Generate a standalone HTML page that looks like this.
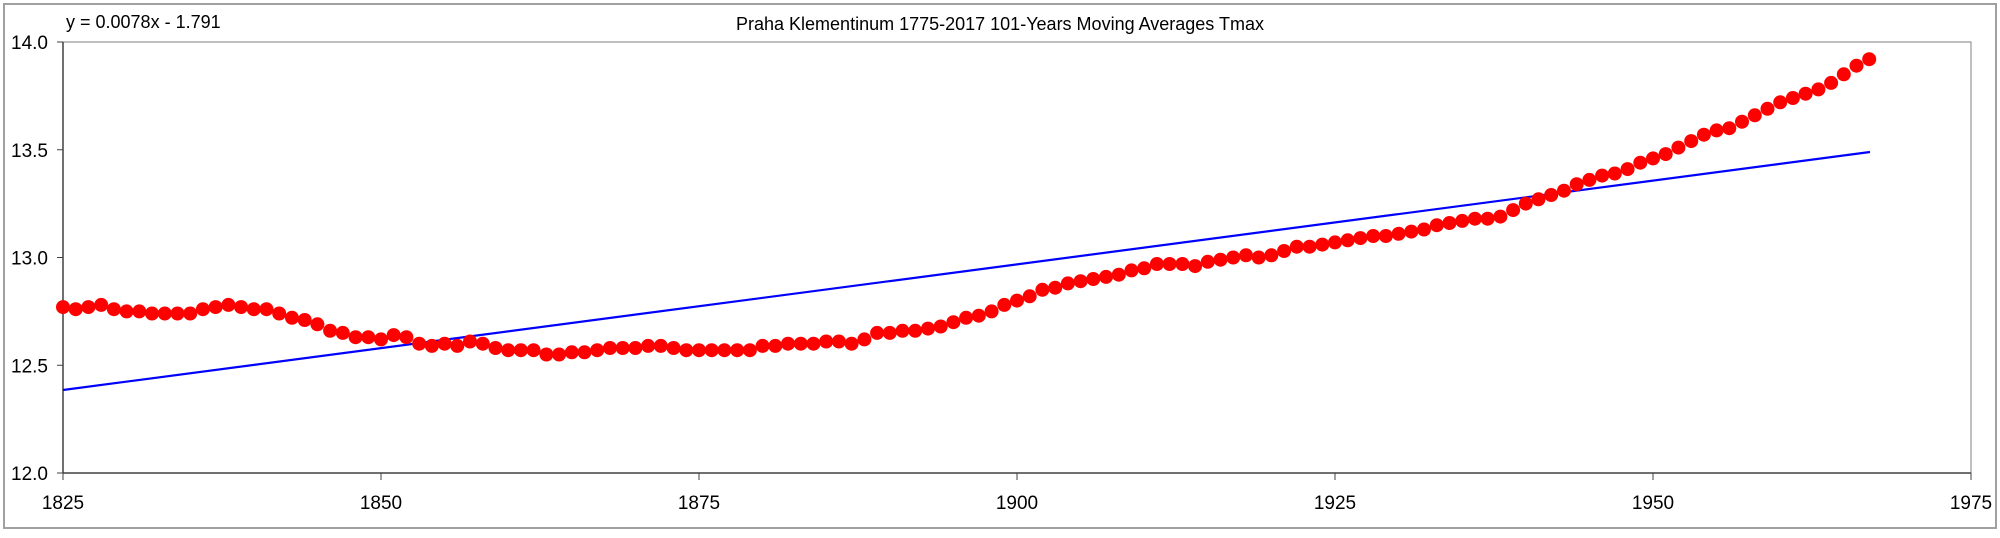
<!DOCTYPE html>
<html><head><meta charset="utf-8"><style>
html,body{margin:0;padding:0;background:#fff;}
svg text{font-family:"Liberation Sans",Arial,sans-serif;fill:#000;}
</style></head><body>
<svg id="c" width="2000" height="533" xmlns="http://www.w3.org/2000/svg">
<rect x="4" y="4" width="1992" height="524" fill="#fff" stroke="#a0a0a0" stroke-width="2"/>
<text x="1000" y="30" font-size="18" text-anchor="middle">Praha Klementinum 1775-2017 101-Years Moving Averages Tmax</text>
<text x="66" y="28" font-size="18">y = 0.0078x - 1.791</text>
<rect x="63" y="42" width="1908" height="431" fill="none" stroke="#808080" stroke-width="1"/>
<line x1="63" y1="42" x2="63" y2="473" stroke="#404040" stroke-width="1.5"/>
<line x1="63" y1="473" x2="1971" y2="473" stroke="#404040" stroke-width="1.5"/>
<g id="ticks"></g>
<line x1="63" y1="390" x2="1870" y2="152" stroke="#0000ff" stroke-width="2.2"/>
<g id="pts" fill="#ff0000"></g>
</svg>
<script>
var X=function(y){return 63+(y-1825)*(1908/150);};
var Y=function(v){return 473-(v-12)*215.5;};
var t=document.getElementById('ticks'),s='';
[12,12.5,13,13.5,14].forEach(function(v){var y=Y(v);s+='<line x1="57" y1="'+y+'" x2="63" y2="'+y+'" stroke="#404040"/><text x="48" y="'+(y+7)+'" font-size="19" text-anchor="end">'+v.toFixed(1)+'</text>';});
[1825,1850,1875,1900,1925,1950,1975].forEach(function(yr){var x=X(yr);s+='<line x1="'+x+'" y1="473" x2="'+x+'" y2="480" stroke="#404040"/><text x="'+x+'" y="509" font-size="19" text-anchor="middle">'+yr+'</text>';});
t.innerHTML=s;
var d=[12.77,12.76,12.77,12.78,12.76,12.75,12.75,12.74,12.74,12.74,12.74,12.76,12.77,12.78,12.77,12.76,12.76,12.74,12.72,12.71,12.69,12.66,12.65,12.63,12.63,12.62,12.64,12.63,12.60,12.59,12.60,12.59,12.61,12.60,12.58,12.57,12.57,12.57,12.55,12.55,12.56,12.56,12.57,12.58,12.58,12.58,12.59,12.59,12.58,12.57,12.57,12.57,12.57,12.57,12.57,12.59,12.59,12.60,12.60,12.60,12.61,12.61,12.60,12.62,12.65,12.65,12.66,12.66,12.67,12.68,12.70,12.72,12.73,12.75,12.78,12.80,12.82,12.85,12.86,12.88,12.89,12.90,12.91,12.92,12.94,12.95,12.97,12.97,12.97,12.96,12.98,12.99,13.00,13.01,13.00,13.01,13.03,13.05,13.05,13.06,13.07,13.08,13.09,13.10,13.10,13.11,13.12,13.13,13.15,13.16,13.17,13.18,13.18,13.19,13.22,13.25,13.27,13.29,13.31,13.34,13.36,13.38,13.39,13.41,13.44,13.46,13.48,13.51,13.54,13.57,13.59,13.60,13.63,13.66,13.69,13.72,13.74,13.76,13.78,13.81,13.85,13.89,13.92];
var p='';d.forEach(function(v,i){p+='<circle cx="'+X(1825+i).toFixed(1)+'" cy="'+Y(v).toFixed(1)+'" r="7"/>';});
document.getElementById('pts').innerHTML=p;
</script>
</body></html>
